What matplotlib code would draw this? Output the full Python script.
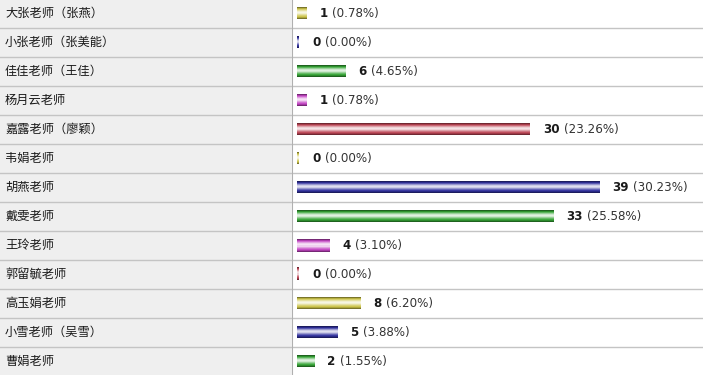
import numpy as np
import matplotlib
matplotlib.use("Agg")
import matplotlib.pyplot as plt
from matplotlib.colors import to_rgb

plt.rcParams['font.family'] = ['Noto Sans CJK SC', 'DejaVu Sans']

#########################################################
# Data
#########################################################
teachers = ['大张老师（张燕）', '小张老师（张美能）', '佳佳老师（王佳）', '杨月云老师',
            '嘉露老师（廖颖）', '韦娟老师', '胡燕老师', '戴雯老师', '王玲老师',
            '郭留毓老师', '高玉娟老师', '小雪老师（吴雪）', '曹娟老师']
votes = [1, 0, 6, 1, 30, 0, 39, 33, 4, 0, 8, 5, 2]
total = sum(votes)

bar_colors = ['#ccc448', '#30309e', '#34a434', '#c444c4', '#bc4454']

#########################################################
# Layout (pixels on a 703x375 canvas)
#########################################################
W, H = 703, 375
split = 292
row_h = 29
px_per_unit = 7.7
pad_px = 2   # every bar gets a 2px stub, so 0 still shows

fig = plt.figure(figsize=(W / 100, H / 100), dpi=100)
ax_l = fig.add_axes([0, 0, split / W, 1])
ax_r = fig.add_axes([split / W, 0, (W - split) / W, 1])

n = len(teachers)
y0 = -13.5 / row_h
y1 = (H - 13.5) / row_h
for ax in (ax_l, ax_r):
    ax.set_axis_off()

ax_l.set_xlim(0, split)
ax_l.set_ylim(y1, y0)
ax_l.add_patch(plt.Rectangle((0, y0), split, y1 - y0, color='#efefef', zorder=0))

xlo = -5 / px_per_unit
xhi = (W - split - 5) / px_per_unit

# grid lines
for i in range(n - 1):
    for ax in (ax_l, ax_r):
        ax.axhline(i + 0.5, color='#c4c4c4', lw=1.0, zorder=1)
ax_r.axvline(xlo, color='#b0b0b0', lw=1.5, zorder=2)

# cylinder shading profile (top -> bottom), + toward white, - toward black
profile = [-0.4, -0.1, 0.2, 0.5, 0.75, 0.85, 0.75, 0.5, 0.25, 0.05, -0.15, -0.4]

def shade(col):
    c = np.array(to_rgb(col))
    rows = []
    for p in profile:
        if p >= 0:
            rows.append(c + (1 - c) * p)
        else:
            rows.append(c * (1 + p))
    return np.array(rows)[:, None, :]

bar_h = 12 / row_h
for i, (name, v) in enumerate(zip(teachers, votes)):
    ax_l.text(5, i, name, ha='left', va='center', fontsize=8.8, color='#1a1a1a')
    w = v + pad_px / px_per_unit
    img = shade(bar_colors[i % len(bar_colors)])
    ax_r.imshow(img, extent=(0, w, i + bar_h / 2, i - bar_h / 2),
                aspect='auto', interpolation='nearest', zorder=3)
    t = ax_r.text(w + 13 / px_per_unit, i, str(v), ha='left', va='center',
                  fontsize=8.6, fontweight='bold', color='#1a1a1a',
                  family='DejaVu Sans')
    ax_r.annotate('(%.2f%%)' % (100.0 * v / total), xy=(1, 0.5), xycoords=t,
                  xytext=(3, 0), textcoords='offset points', ha='left', va='center',
                  fontsize=8.6, color='#333333', family='DejaVu Sans')

ax_r.set_ylim(y1, y0)
ax_r.set_xlim(xlo, xhi)

plt.savefig('out.png', dpi=100)
